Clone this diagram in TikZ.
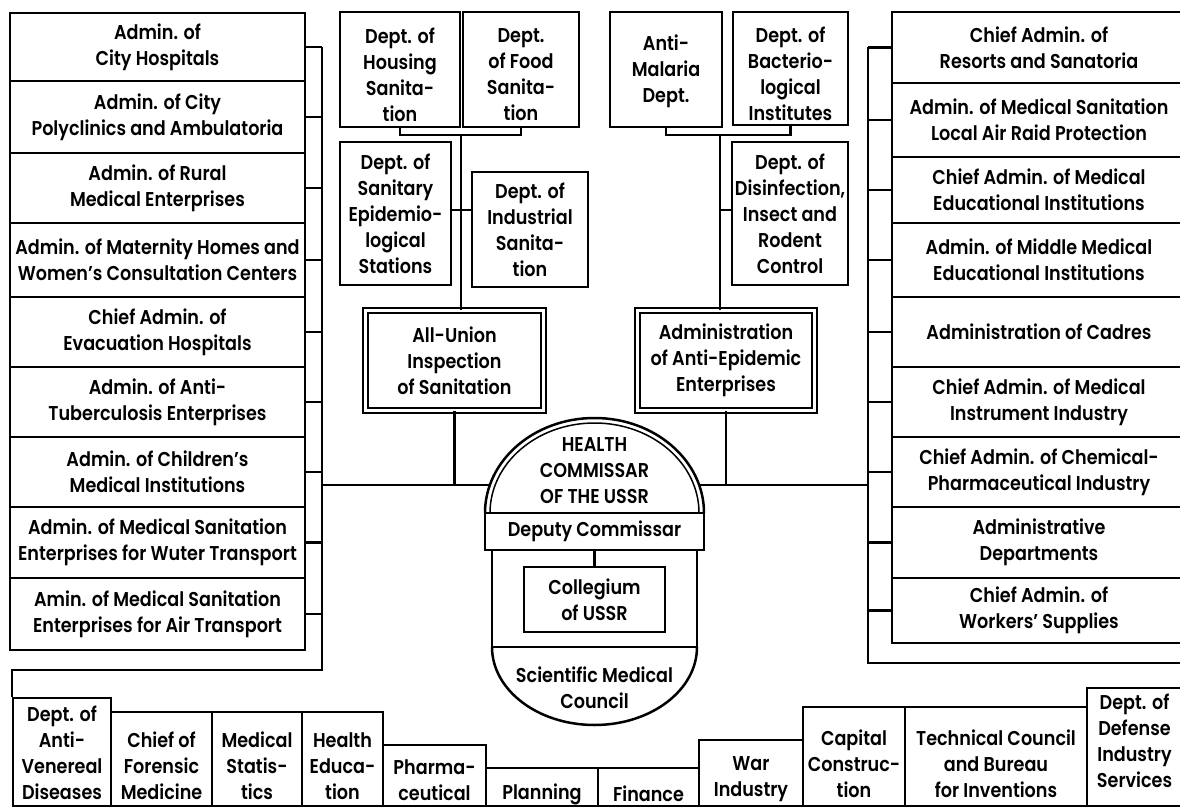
\documentclass[tikz,border=0pt]{standalone}
\usepackage{fontspec}
\setmainfont{Poppins}[UprightFont={* SemiBold}, FakeStretch=0.88]
\newcommand{\bx}[6]{\node[box, minimum width={(#4-#2)*1pt}, minimum height={(#5-#3)*1pt}] (#1) at ({(#2+#4)/2},{(#3+#5)/2}) {#6};}
\newcommand{\dbx}[6]{\node[dbox, minimum width={(#4-#2)*1pt}, minimum height={(#5-#3)*1pt}] (#1) at ({(#2+#4)/2},{(#3+#5)/2}) {#6};}
% box with text shifted down by #7 (pixels)
\newcommand{\bxs}[7]{\node[box, minimum width={(#4-#2)*1pt}, minimum height={(#5-#3)*1pt}] (#1) at ({(#2+#4)/2},{(#3+#5)/2}) {};
  \node[lbl] (#1t) at ([yshift={-(#7)*1pt}]#1.center) {#6};}
\begin{document}
\begin{tikzpicture}[x=1pt,y=-1pt, line width=2.5pt,
  lbl/.style={align=center, inner sep=0pt, font=\fontsize{20}{26}\selectfont},
  box/.style={lbl, draw, line width=2.5pt},
  dbox/.style={lbl, draw, line width=1.8pt, double, double distance=2.8pt},
  arch/.style={line width=2.5pt},
  conn/.style={line width=2.5pt}]
\useasboundingbox (0,0) rectangle (1180,810);
\fill[white] (0,0) rectangle (1180,810);
\clip (0,0) rectangle (1180,810);
% left column
\bx{L1}{10}{13}{305}{81}{Admin. of\\City Hospitals}
\bx{L2}{10}{81}{305}{153}{Admin. of City\\Polyclinics and Ambulatoria}
\bx{L3}{10}{153}{305}{223}{Admin. of Rural\\Medical Enterprises}
\bx{L4}{10}{223}{305}{297}{Admin. of Maternity Homes and\\Women's Consultation Centers}
\bx{L5}{10}{297}{305}{367}{Chief Admin. of\\Evacuation Hospitals}
\bx{L6}{10}{367}{305}{437}{Admin. of Anti-\\Tuberculosis Enterprises}
\bx{L7}{10}{437}{305}{507}{Admin. of Children's\\Medical Institutions}
\bx{L8}{10}{507}{305}{578}{Admin. of Medical Sanitation\\Enterprises for Wuter Transport}
\bx{L9}{10}{578}{305}{650}{Amin. of Medical Sanitation\\Enterprises for Air Transport}
% right column
\bx{R1}{892}{12}{1186}{83}{Chief Admin. of\\Resorts and Sanatoria}
\bx{R2}{892}{83}{1186}{157}{Admin. of Medical Sanitation\\Local Air Raid Protection}
\bx{R3}{892}{157}{1186}{223}{Chief Admin. of Medical\\Educational Institutions}
\bx{R4}{892}{223}{1186}{297}{Admin. of Middle Medical\\Educational Institutions}
\bx{R5}{892}{297}{1186}{367}{Administration of Cadres}
\bx{R6}{892}{367}{1186}{437}{Chief Admin. of Medical\\Instrument Industry}
\bx{R7}{892}{437}{1186}{507}{Chief Admin. of Chemical-\\Pharmaceutical Industry}
\bx{R8}{892}{507}{1186}{578}{Administrative\\Departments}
\bx{R9}{892}{578}{1186}{643}{Chief Admin. of\\Workers' Supplies}
% middle top
\bxs{HS}{340}{12}{460}{127}{Dept. of\\Housing\\Sanita-\\tion}{5}
\bxs{FS}{463}{12}{579}{127}{Dept.\\of Food\\Sanita-\\tion}{5}
\bx{SE}{340}{142}{451}{285}{Dept. of\\Sanitary\\Epidemio-\\logical\\Stations}
\bx{IS}{472}{172}{588}{287}{Dept. of\\Industrial\\Sanita-\\tion}
\bxs{AM}{610}{12}{722}{127}{Anti-\\Malaria\\Dept.}{2}
\bxs{BI}{733}{12}{848}{125}{Dept. of\\Bacterio-\\logical\\Institutes}{5}
\bx{DI}{732}{142}{848}{285}{Dept. of\\Disinfection,\\Insect and\\Rodent\\Control}
\dbx{AU}{365.5}{310.5}{543.5}{410.5}{All-Union\\Inspection\\of Sanitation}
\dbx{AE}{637.5}{310.5}{814.5}{410.5}{Administration\\of Anti-Epidemic\\Enterprises}
% bottom row
\bxs{B1}{13}{698}{111}{806}{Dept. of\\Anti-\\Venereal\\Diseases}{1}
\bxs{B2}{111}{712}{212}{806}{Chief of\\Forensic\\Medicine}{7}
\bxs{B3}{212}{712}{302}{806}{Medical\\Statis-\\tics}{7}
\bxs{B4}{302}{712}{383}{806}{Health\\Educa-\\tion}{7}
\bxs{B5}{383}{745}{486}{806}{Pharma-\\ceutical}{5}
\bxs{B6}{486}{768}{598}{806}{Planning}{7}
\bxs{B7}{598}{768}{699}{806}{Finance}{7}
\bxs{B8}{699}{740}{803}{806}{War\\Industry}{6}
\bxs{B9}{803}{707}{905}{806}{Capital\\Construc-\\tion}{7}
\bxs{B10}{905}{707}{1087}{806}{Technical Council\\and Bureau\\for Inventions}{7}
\bxs{B11}{1087}{688}{1182}{806}{Dept. of\\Defense\\Industry\\Services}{-6}
% emblem
\node[box, outer sep=0pt, minimum width=219pt, minimum height=37pt] (DC) at (594.5,531.5) {Deputy Commissar};
\draw[arch] (485,513) arc[start angle=180, end angle=360, x radius=109.5, y radius=95];
\draw[line width=1.5pt] (490,513) arc[start angle=180, end angle=360, x radius=104.5, y radius=90];
\draw[arch] (492,550) -- (492,647) -- (697,647) -- (697,550);
\draw[arch] (492,647) arc[start angle=180, end angle=0, x radius=102.5, y radius=78];
\node[lbl] (HC) at (594.5,471) {HEALTH\\COMMISSAR\\OF THE USSR};
\bx{CU}{524}{567}{665}{632}{Collegium\\of USSR}
\node[lbl] (SM) at (594.5,688) {Scientific Medical\\Council};
\draw[conn] (DC.south) -- (CU.north);
% coordinates
\coordinate (lb) at (322,0);
\coordinate (lc) at (322,670);
\coordinate (rb) at (868,0);
\coordinate (rc) at (868,663);
\coordinate (dl) at (491,485);
\coordinate (dr) at (698,485);
\coordinate (jl) at (461,135);
\coordinate (jl2) at (461,210);
\coordinate (jr) at (720,135);
\coordinate (jr2) at (720,210);
% left bus
\foreach \i in {1,...,9} \draw[conn] (L\i.east) -- (L\i.east -| lb);
\draw[conn] (L1.east -| lb) -- (lc) -| (B1.north west);
% right bus
\foreach \i in {1,...,9} \draw[conn] (R\i.west) -- (R\i.west -| rb);
\draw[conn] (R1.west -| rb) -- (rc) -| (B11.north east);
% centre links
\draw[conn] (lb |- dl) -- (dl);
\draw[conn] (dr) -- (dr -| rb);
\draw[conn] (AU.south) -- (AU.south |- dl);
\draw[conn] (AE.south) -- (AE.south |- dr);
% top left group
\draw[conn] (HS.south) |- (jl) -| (FS.south);
\draw[conn] (jl) -- (jl |- AU.north);
\draw[conn] (SE.east |- jl2) -- (IS.west |- jl2);
% top right group
\draw[conn] (AM.south) |- (jr) -| (BI.south);
\draw[conn] (jr) -- (jr |- AE.north);
\draw[conn] (jr2) -- (DI.west |- jr2);
\end{tikzpicture}
\end{document}
